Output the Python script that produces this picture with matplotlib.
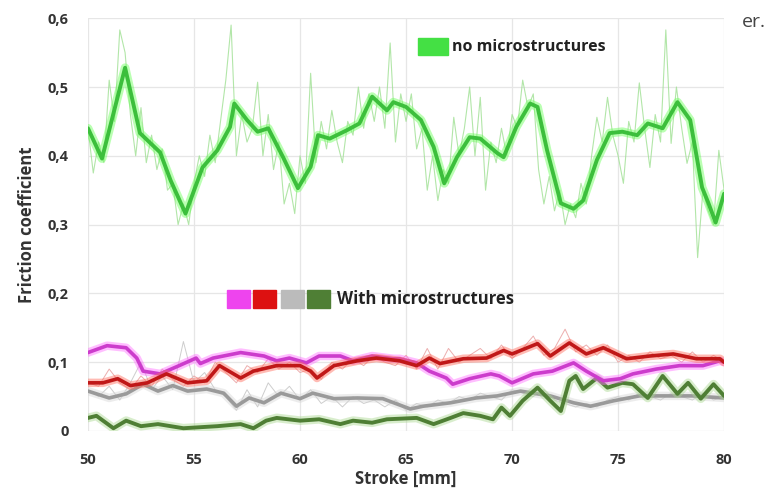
import numpy as np
import matplotlib.pyplot as plt
from matplotlib.patches import Rectangle

# smoothed curves (stroke mm, friction coefficient)
no_micro_x = [50.0, 50.66, 51.75, 52.45, 53.4, 53.9, 54.6, 55.4, 56.1, 56.7, 56.9, 57.5, 58.0,
              58.5, 59.2, 59.9, 60.5, 60.85, 61.4, 62.2, 62.8, 63.4, 64.1, 64.4, 65.0, 65.7,
              66.3, 66.8, 67.4, 68.0, 68.5, 69.3, 69.6, 70.2, 70.85, 71.2, 71.65, 72.3, 72.9,
              73.35, 74.0, 74.6, 75.2, 75.9, 76.4, 77.1, 77.8, 78.4, 78.96, 79.25, 79.6, 80.0]
no_micro_y = [0.44, 0.396, 0.528, 0.433, 0.405, 0.364, 0.316, 0.383, 0.408, 0.442, 0.476, 0.452,
              0.435, 0.44, 0.398, 0.353, 0.384, 0.43, 0.425, 0.437, 0.447, 0.486, 0.466, 0.478,
              0.471, 0.452, 0.413, 0.36, 0.398, 0.427, 0.425, 0.404, 0.398, 0.442, 0.476, 0.471,
              0.408, 0.331, 0.323, 0.335, 0.394, 0.433, 0.435, 0.43, 0.447, 0.44, 0.478, 0.452,
              0.354, 0.332, 0.303, 0.345]

# raw (unsmoothed) trace for the untextured surface, every 0.25 mm
no_micro_raw = [0.44, 0.375, 0.42, 0.39, 0.51, 0.45, 0.583, 0.55, 0.46, 0.40, 0.47, 0.39,
                0.43, 0.38, 0.41, 0.35, 0.36, 0.30, 0.33, 0.30, 0.36, 0.40, 0.37, 0.43,
                0.39, 0.45, 0.51, 0.59, 0.40, 0.46, 0.42, 0.44, 0.507, 0.40, 0.46, 0.38,
                0.42, 0.33, 0.36, 0.316, 0.40, 0.36, 0.52, 0.39, 0.45, 0.41, 0.466, 0.42,
                0.39, 0.45, 0.43, 0.50, 0.44, 0.49, 0.45, 0.50, 0.44, 0.564, 0.42, 0.49,
                0.45, 0.49, 0.41, 0.44, 0.35, 0.40, 0.335, 0.38, 0.36, 0.456, 0.40, 0.44,
                0.50, 0.40, 0.485, 0.35, 0.42, 0.39, 0.44, 0.40, 0.46, 0.44, 0.51, 0.47,
                0.49, 0.38, 0.33, 0.37, 0.32, 0.35, 0.30, 0.33, 0.31, 0.36, 0.33, 0.40,
                0.456, 0.42, 0.485, 0.43, 0.40, 0.36, 0.45, 0.42, 0.506, 0.44, 0.383, 0.46,
                0.42, 0.583, 0.418, 0.50, 0.44, 0.389, 0.42, 0.252, 0.35, 0.32, 0.30, 0.408,
                0.35]

magenta_x = [50.0, 50.9, 51.8, 52.3, 52.6, 53.4, 54.3, 55.1, 55.3, 55.9, 57.2, 58.3, 58.9,
             59.5, 60.3, 60.9, 61.9, 62.5, 63.4, 64.4, 64.7, 65.5, 66.1, 66.9, 67.2, 68.0,
             69.0, 69.4, 70.0, 71.0, 71.9, 72.9, 73.5, 74.3, 75.1, 75.7, 76.8, 77.9, 79.0, 79.8, 80.0]
magenta_y = [0.114, 0.124, 0.121, 0.106, 0.087, 0.083, 0.095, 0.106, 0.098, 0.106, 0.114, 0.109,
             0.102, 0.106, 0.099, 0.109, 0.109, 0.102, 0.109, 0.105, 0.105, 0.099, 0.087, 0.077,
             0.068, 0.076, 0.083, 0.08, 0.07, 0.083, 0.087, 0.099, 0.087, 0.073, 0.076, 0.083,
             0.09, 0.095, 0.095, 0.102, 0.10]

red_x = [50.0, 50.7, 51.4, 52.0, 52.8, 53.7, 54.7, 55.6, 56.2, 57.2, 57.8, 58.9, 60.0, 60.5,
         60.8, 61.6, 62.7, 63.6, 64.7, 65.5, 66.1, 66.6, 67.7, 68.8, 69.6, 70.0, 71.2, 71.8,
         72.7, 73.5, 74.3, 75.4, 76.5, 77.6, 78.7, 79.8, 80.0]
red_y = [0.07, 0.07, 0.076, 0.066, 0.07, 0.083, 0.07, 0.073, 0.095, 0.077, 0.087, 0.095, 0.095,
         0.087, 0.077, 0.095, 0.102, 0.106, 0.102, 0.095, 0.106, 0.098, 0.105, 0.106, 0.117,
         0.112, 0.127, 0.109, 0.128, 0.112, 0.121, 0.105, 0.109, 0.112, 0.105, 0.105, 0.10]

gray_x = [50.0, 51.0, 51.8, 52.6, 53.3, 54.0, 54.7, 55.6, 56.4, 57.0, 57.6, 58.3, 59.1, 60.0,
          60.6, 61.6, 62.7, 63.9, 65.2, 65.8, 67.1, 68.3, 69.3, 70.4, 71.8, 72.9, 73.7, 74.8,
          76.0, 77.3, 78.5, 80.0]
gray_y = [0.058, 0.048, 0.054, 0.068, 0.058, 0.066, 0.058, 0.061, 0.055, 0.036, 0.048, 0.041,
          0.055, 0.047, 0.055, 0.047, 0.048, 0.047, 0.032, 0.036, 0.041, 0.048, 0.051, 0.058,
          0.051, 0.041, 0.036, 0.044, 0.051, 0.051, 0.051, 0.048]

dkgreen_x = [50.0, 50.4, 51.2, 51.8, 52.5, 53.3, 54.5, 56.1, 57.2, 57.8, 58.4, 58.9, 60.0,
             60.9, 61.9, 62.5, 63.4, 64.1, 65.5, 66.3, 67.1, 67.7, 68.5, 69.1, 69.5, 69.9,
             70.5, 71.2, 71.8, 72.3, 72.7, 73.0, 73.35, 74.0, 74.5, 75.2, 75.7, 76.4, 77.1,
             77.8, 78.3, 78.9, 79.5, 80.0]
dkgreen_y = [0.019, 0.022, 0.004, 0.015, 0.007, 0.01, 0.004, 0.007, 0.01, 0.004, 0.015, 0.019,
             0.015, 0.017, 0.01, 0.015, 0.012, 0.017, 0.019, 0.01, 0.019, 0.026, 0.022, 0.017,
             0.034, 0.022, 0.044, 0.063, 0.044, 0.029, 0.073, 0.08, 0.061, 0.077, 0.063, 0.07,
             0.068, 0.048, 0.08, 0.054, 0.07, 0.047, 0.068, 0.051]

# raw traces, every 0.5 mm
red_raw = [0.07, 0.065, 0.09, 0.07, 0.06, 0.08, 0.065, 0.09, 0.075, 0.065, 0.08, 0.07, 0.10,
           0.085, 0.07, 0.095, 0.085, 0.105, 0.09, 0.10, 0.085, 0.09, 0.075, 0.10, 0.09, 0.105,
           0.095, 0.11, 0.10, 0.095, 0.11, 0.09, 0.12, 0.09, 0.12, 0.10, 0.11, 0.12, 0.105,
           0.125, 0.105, 0.12, 0.138, 0.11, 0.12, 0.148, 0.115, 0.125, 0.11, 0.125, 0.10, 0.11,
           0.10, 0.115, 0.105, 0.11, 0.10, 0.115, 0.10, 0.11, 0.10]
gray_raw = [0.06, 0.05, 0.065, 0.045, 0.07, 0.10, 0.06, 0.08, 0.06, 0.13, 0.07, 0.085, 0.06,
            0.05, 0.03, 0.06, 0.035, 0.07, 0.05, 0.065, 0.045, 0.06, 0.04, 0.05, 0.035, 0.05,
            0.04, 0.045, 0.035, 0.045, 0.03, 0.04, 0.035, 0.045, 0.04, 0.05, 0.045, 0.055, 0.05,
            0.045, 0.06, 0.055, 0.05, 0.06, 0.045, 0.04, 0.035, 0.04, 0.035, 0.045, 0.05, 0.045,
            0.055, 0.05, 0.045, 0.055, 0.05, 0.045, 0.055, 0.045, 0.05]

x_ticks = [50, 55, 60, 65, 70, 75, 80]
y_ticks = [0, 0.1, 0.2, 0.3, 0.4, 0.5, 0.6]
y_tick_labels = ["0", "0,1", "0,2", "0,3", "0,4", "0,5", "0,6"]

plt.rcParams["font.family"] = ["Open Sans", "DejaVu Sans"]

fig = plt.figure(figsize=(7.82, 4.92), dpi=100)
ax = fig.add_axes([0.1125, 0.124, 0.8135, 0.839])

# thin raw traces
ax.plot(np.linspace(50, 80, len(no_micro_raw)), no_micro_raw, color="#9fe093", lw=0.8, alpha=0.8)
ax.plot(np.linspace(50, 80, len(red_raw)), red_raw, color="#e89a9a", lw=0.7, alpha=0.8)
ax.plot(np.linspace(50, 80, len(gray_raw)), gray_raw, color="#c8c8c8", lw=0.7, alpha=0.9)


def glow_line(x, y, core, halo, lw=2.6):
    ax.plot(x, y, color=halo, lw=lw + 3.5, alpha=0.45, solid_capstyle="round")
    ax.plot(x, y, color=core, lw=lw, solid_capstyle="round", solid_joinstyle="round")


glow_line(gray_x, gray_y, "#9a9a9a", "#d6d6d6")
glow_line(dkgreen_x, dkgreen_y, "#4f7f35", "#a9d88f", lw=2.8)
glow_line(magenta_x, magenta_y, "#cc3ccc", "#ff70ff")
glow_line(red_x, red_y, "#c01818", "#ff6a5a")
glow_line(no_micro_x, no_micro_y, "#3cbf3c", "#66ff55", lw=2.8)

ax.set_xlim(50, 80)
ax.set_ylim(0, 0.6)
ax.set_xticks(x_ticks)
ax.set_yticks(y_ticks)
ax.set_yticklabels(y_tick_labels)
ax.grid(True, color="#e6e6e6", lw=0.9)
ax.set_axisbelow(True)
for s in ax.spines.values():
    s.set_visible(False)
ax.tick_params(length=0, labelsize=10.5, labelcolor="#333333", pad=14)
ax.tick_params(axis="x", pad=16)
for lab in ax.get_xticklabels() + ax.get_yticklabels():
    lab.set_fontweight("bold")

ax.set_xlabel("Stroke [mm]", fontsize=12, fontweight="bold", color="#333333", labelpad=2)
ax.set_ylabel("Friction coefficient", fontsize=12, fontweight="bold", color="#333333", labelpad=8)

# hand-made legends
fig.patches.append(Rectangle((418 / 782, 1 - 55 / 492), 30 / 782, 17 / 492,
                             transform=fig.transFigure, color="#44e044"))
fig.text(452 / 782, 1 - 47 / 492, "no microstructures", fontsize=11.5, fontweight="bold",
         color="#222222", va="center")
for x0, c in zip([227, 253, 281, 307], ["#ee44ee", "#dd1111", "#bbbbbb", "#4f7f35"]):
    fig.patches.append(Rectangle((x0 / 782, 1 - 308 / 492), 23 / 782, 18 / 492,
                                 transform=fig.transFigure, color=c))
fig.text(337 / 782, 1 - 299 / 492, "With microstructures", fontsize=12, fontweight="bold",
         color="#222222", va="center")

fig.text(742 / 782, 1 - 22 / 492, "er.", fontsize=14, color="#444444", va="center")

plt.savefig("out.png")
plt.close()
